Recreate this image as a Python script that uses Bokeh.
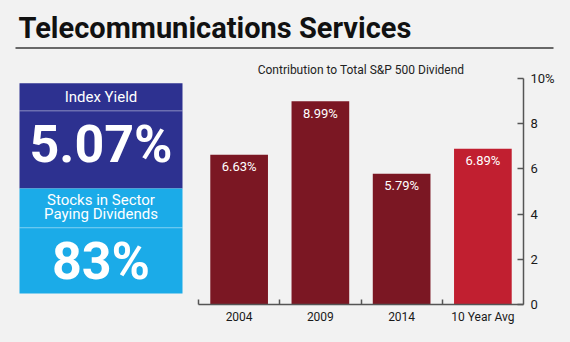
from bokeh.plotting import figure
from bokeh.layouts import column, row
from bokeh.models import Range1d, FixedTicker
from bokeh.core.properties import value
from bokeh.embed import file_html
from bokeh.resources import INLINE

# ---- data ----
categories = ["2004", "2009", "2014", "10 Year Avg"]
contribution = [6.63, 8.99, 5.79, 6.89]
bar_labels = ["6.63%", "8.99%", "5.79%", "6.89%"]
bar_colors = ["#7b1723", "#7b1723", "#7b1723", "#c11f30"]
y_ticks = [0, 2, 4, 6, 8, 10]
y_tick_labels = ["0", "2", "4", "6", "8", "10%"]
title_text = "Telecommunications Services"
chart_title = "Contribution to Total S&P 500 Dividend"
index_yield_label = "Index Yield"
index_yield = "5.07%"
stocks_label = ["Stocks in Sector", "Paying Dividends"]
stocks_paying = "83%"

BG = "#f2f2f2"
FONT = "Roboto"
DARK_BLUE = "#2d3190"
LIGHT_BLUE = "#1babe8"
AXIS = "#555555"
bg_style = {"background-color": BG}


def plain(w, h, xr, yr):
    p = figure(width=w, height=h, x_range=xr, y_range=yr,
               x_axis_location=None, y_axis_location=None,
               toolbar_location=None, output_backend="svg", min_border=0,
               styles=bg_style)
    p.grid.visible = False
    p.outline_line_color = None
    p.background_fill_color = None
    p.border_fill_color = None
    return p


# ---- header ----
top = plain(570, 52, Range1d(0, 570), Range1d(52, 0))
top.text(x=[18], y=[27], text=[title_text], text_font=value(FONT),
         text_font_style="bold", text_font_size="29px",
         text_baseline="middle", text_align="left", text_color="#111111")
top.segment(x0=[15], y0=[47.5], x1=[553], y1=[47.5], line_color="#3a3a3a", line_width=1.5)

# ---- left panels ----
left = plain(190, 290, Range1d(0, 190), Range1d(342, 52))
left.quad(left=[19], right=[182], top=[58], bottom=[193], fill_color=DARK_BLUE, line_color=None)
left.quad(left=[19], right=[182], top=[193], bottom=[328], fill_color=LIGHT_BLUE, line_color=None)
left.segment(x0=[19, 19], y0=[93.5, 243.5], x1=[182, 182], y1=[93.5, 243.5],
             line_color="white", line_alpha=0.45, line_width=1)
cx = 100.5
left.text(x=[cx], y=[76], text=[index_yield_label], text_font=value(FONT),
          text_font_size="15px", text_align="center", text_baseline="middle", text_color="white")
left.text(x=[cx], y=[137], text=[index_yield], text_font=value(FONT), text_font_style="bold",
          text_font_size="52px", text_align="center", text_baseline="middle", text_color="white")
left.text(x=[cx, cx], y=[208, 226], text=stocks_label, text_font=value(FONT),
          text_font_size="15px", text_align="center", text_baseline="middle", text_color="white")
left.text(x=[cx], y=[287], text=[stocks_paying], text_font=value(FONT), text_font_style="bold",
          text_font_size="52px", text_align="center", text_baseline="middle", text_color="white")

# ---- bar chart ----
n = len(categories)
centers = [i + 0.5 for i in range(n)]
chart = figure(width=380, height=290, x_range=Range1d(0, n), y_range=Range1d(0, 10),
               y_axis_location="right", toolbar_location=None, output_backend="svg",
               min_border_left=8, min_border_right=47, min_border_top=26, min_border_bottom=38,
               title=chart_title, styles=bg_style)
chart.grid.visible = False
chart.outline_line_color = None
chart.background_fill_color = None
chart.border_fill_color = None
chart.title.align = "center"
chart.title.text_font = FONT
chart.title.text_font_size = "12px"
chart.title.text_font_style = "normal"
chart.title.text_color = "#222222"
chart.title.standoff = 4

chart.vbar(x=centers, top=contribution, width=0.71, fill_color=bar_colors, line_color=None)
chart.text(x=centers, y=contribution, text=bar_labels, text_align="center", text_baseline="middle",
           y_offset=12, text_font=value(FONT), text_font_size="13px", text_color="white")

xa = chart.xaxis[0]
xa.ticker = FixedTicker(ticks=centers, minor_ticks=list(range(n)))
xa.major_label_overrides = {c: lab for c, lab in zip(centers, categories)}
xa.major_tick_in = 0
xa.major_tick_out = 0
xa.minor_tick_in = 5
xa.minor_tick_out = 0
xa.minor_tick_line_color = AXIS
xa.minor_tick_line_width = 1.5
xa.axis_line_color = AXIS
xa.axis_line_width = 1.5
xa.major_label_standoff = 5
xa.major_label_text_font = FONT
xa.major_label_text_font_size = "12px"
xa.major_label_text_color = "#1a1a1a"

ya = chart.yaxis[0]
ya.ticker = FixedTicker(ticks=y_ticks, minor_ticks=[])
ya.major_label_overrides = {t: lab for t, lab in zip(y_ticks, y_tick_labels)}
ya.major_tick_in = 6
ya.major_tick_out = 0
ya.minor_tick_in = 0
ya.minor_tick_out = 0
ya.major_tick_line_color = AXIS
ya.major_tick_line_width = 1.5
ya.axis_line_color = AXIS
ya.axis_line_width = 1.5
ya.major_label_standoff = 7
ya.major_label_text_font = FONT
ya.major_label_text_font_size = "13px"
ya.major_label_text_color = "#1a1a1a"

layout = column(top, row(left, chart, spacing=0, styles=bg_style), spacing=0, styles=bg_style)
html = file_html(layout, INLINE)
html = html.replace("<body>", '<body style="margin:0;background-color:%s;">' % BG, 1)
open("out.html", "w").write(html)
